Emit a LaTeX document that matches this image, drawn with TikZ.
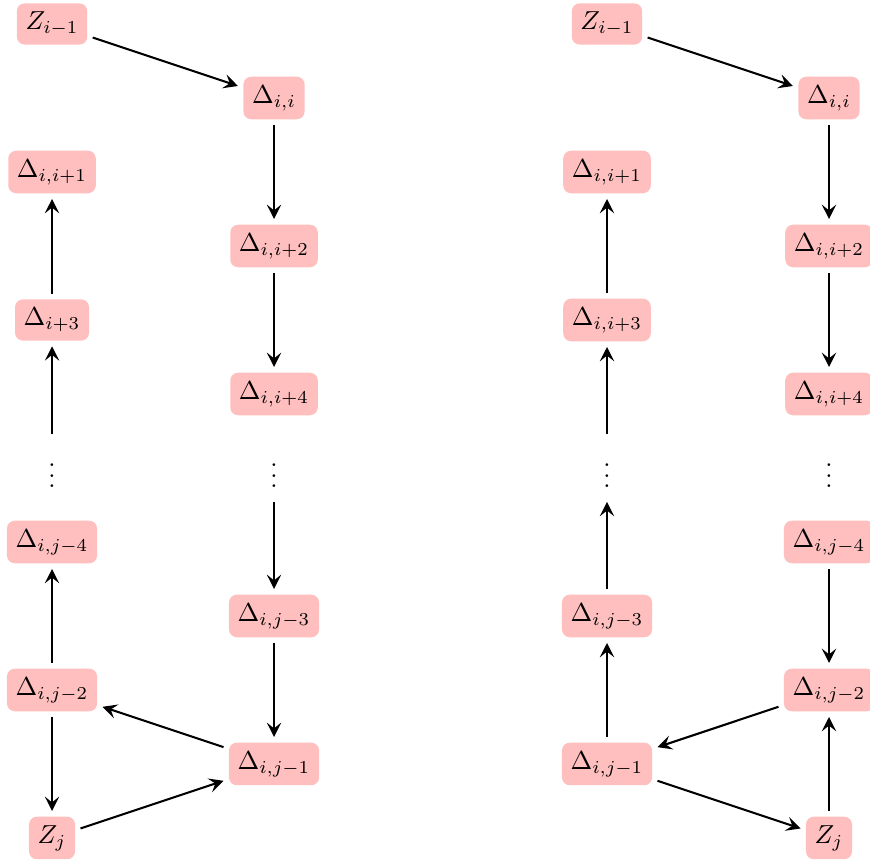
\documentclass[tikz,border=0pt]{standalone}
\usetikzlibrary{arrows.meta}
\begin{document}
\begin{tikzpicture}[x=1cm,y=-1cm,
  box/.style={fill=red!25, rounded corners=3pt, inner sep=0.3333em},
  dotsnode/.style={inner sep=0.3333em},
  arr/.style={-{Stealth[length=5.5pt,width=5.5pt,inset=2.2pt]}, line width=0.8pt, shorten >=2pt, shorten <=2pt}]
\useasboundingbox (-0.703,-0.324) rectangle (11.054,11.35);
% left diagram
\begin{scope}
\node[box] (lz1) at (0,0) {$Z_{i-1}$};
\node[box] (ld11) at (3,1) {$\Delta_{i,i}$};
\node[box] (ld12) at (0,2) {$\Delta_{i,i+1}$};
\node[box] (ld13) at (3,3) {$\Delta_{i,i+2}$};
\node[box] (ld14) at (0,4) {$\Delta_{i+3}$};
\node[box] (ld15) at (3,5) {$\Delta_{i,i+4}$};
\node[dotsnode] (ldA) at (0,6.0) {$\vdots$};
\node[dotsnode] (ldB) at (3,6.0) {$\vdots$};
\node[box] (ld17) at (0,7) {$\Delta_{i,j-4}$};
\node[box] (ld18) at (3,8) {$\Delta_{i,j-3}$};
\node[box] (ld19) at (0,9) {$\Delta_{i,j-2}$};
\node[box] (ld20) at (3,10) {$\Delta_{i,j-1}$};
\node[box] (lzj) at (0,11) {$Z_j$};
\draw[arr] (lz1) -- (ld11);
\draw[arr] (ld11) -- (ld13);
\draw[arr] (ld13) -- (ld15);
\draw[arr] (ldB) -- (ld18);
\draw[arr] (ld18) -- (ld20);
\draw[arr] (ld20) -- (ld19);
\draw[arr] (ld19) -- (lzj);
\draw[arr] (lzj) -- (ld20);
\draw[arr] (ld19) -- (ld17);
\draw[arr] (ldA) -- (ld14);
\draw[arr] (ld14) -- (ld12);
\end{scope}
% right diagram
\begin{scope}[xshift=7.5cm]
\node[box] (rz1) at (0,0) {$Z_{i-1}$};
\node[box] (rd11) at (3,1) {$\Delta_{i,i}$};
\node[box] (rd12) at (0,2) {$\Delta_{i,i+1}$};
\node[box] (rd13) at (3,3) {$\Delta_{i,i+2}$};
\node[box] (rd14) at (0,4) {$\Delta_{i,i+3}$};
\node[box] (rd15) at (3,5) {$\Delta_{i,i+4}$};
\node[dotsnode] (rdA) at (0,6.0) {$\vdots$};
\node[dotsnode] (rdB) at (3,6.0) {$\vdots$};
\node[box] (rd17) at (3,7) {$\Delta_{i,j-4}$};
\node[box] (rd18) at (0,8) {$\Delta_{i,j-3}$};
\node[box] (rd19) at (3,9) {$\Delta_{i,j-2}$};
\node[box] (rd20) at (0,10) {$\Delta_{i,j-1}$};
\node[box] (rzj) at (3,11) {$Z_j$};
\draw[arr] (rz1) -- (rd11);
\draw[arr] (rd11) -- (rd13);
\draw[arr] (rd13) -- (rd15);
\draw[arr] (rd14) -- (rd12);
\draw[arr] (rdA) -- (rd14);
\draw[arr] (rd18) -- (rdA);
\draw[arr] (rd20) -- (rd18);
\draw[arr] (rd17) -- (rd19);
\draw[arr] (rd19) -- (rd20);
\draw[arr] (rd20) -- (rzj);
\draw[arr] (rzj) -- (rd19);
\end{scope}
\end{tikzpicture}
\end{document}
